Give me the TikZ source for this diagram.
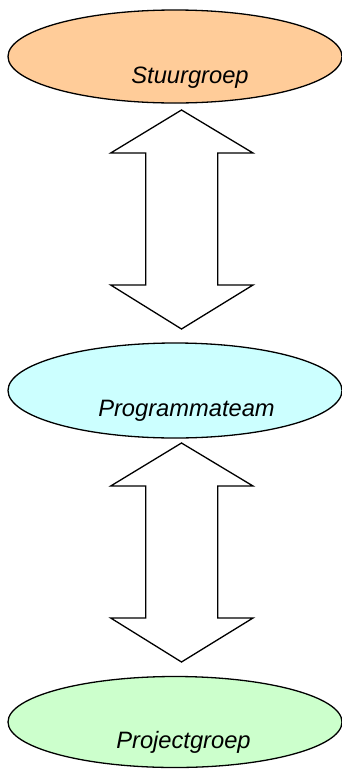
\documentclass[tikz,border=0pt]{standalone}
\usepackage{fontspec}
\setmainfont{Liberation Sans}
\usetikzlibrary{shapes.geometric}
\definecolor{peach}{HTML}{FFCC99}
\definecolor{lightcyan}{HTML}{CCFFFF}
\definecolor{lightgreen}{HTML}{CCFFCC}
\tikzset{
  oval/.style={ellipse, draw=black, line width=1.3pt, minimum width=334pt, minimum height=93pt, inner sep=0pt},
  lbl/.style={anchor=base, inner sep=0pt, font=\fontsize{23.7}{28}\selectfont\itshape},
  dblarrow/.style={draw=black, fill=white, line width=1.3pt, line join=miter}
}
\begin{document}
\begin{tikzpicture}[x=1pt,y=-1pt]
\useasboundingbox (0,0) rectangle (342,769);
% ellipses
\node[oval, fill=peach] (st) at (175,56.5) {};
\node[lbl] (stl) at (190,83) {Stuurgroep};
\node[oval, fill=lightcyan, minimum height=95pt] (pt) at (175,390.5) {};
\node[lbl] (ptl) at (186.5,416) {Programmateam};
\node[oval, fill=lightgreen, minimum height=91pt] (pg) at (175,722) {};
\node[lbl] (pgl) at (183.5,748) {Projectgroep};
% double arrows
\foreach \dy in {0,333}{
  \draw[dblarrow] (181.5,110+\dy) -- (253,153+\dy) -- (217.7,153+\dy) -- (217.7,285+\dy)
    -- (253,285+\dy) -- (181.5,329+\dy) -- (110.7,285+\dy) -- (145.7,285+\dy)
    -- (145.7,153+\dy) -- (110.7,153+\dy) -- cycle;
}
\end{tikzpicture}
\end{document}
